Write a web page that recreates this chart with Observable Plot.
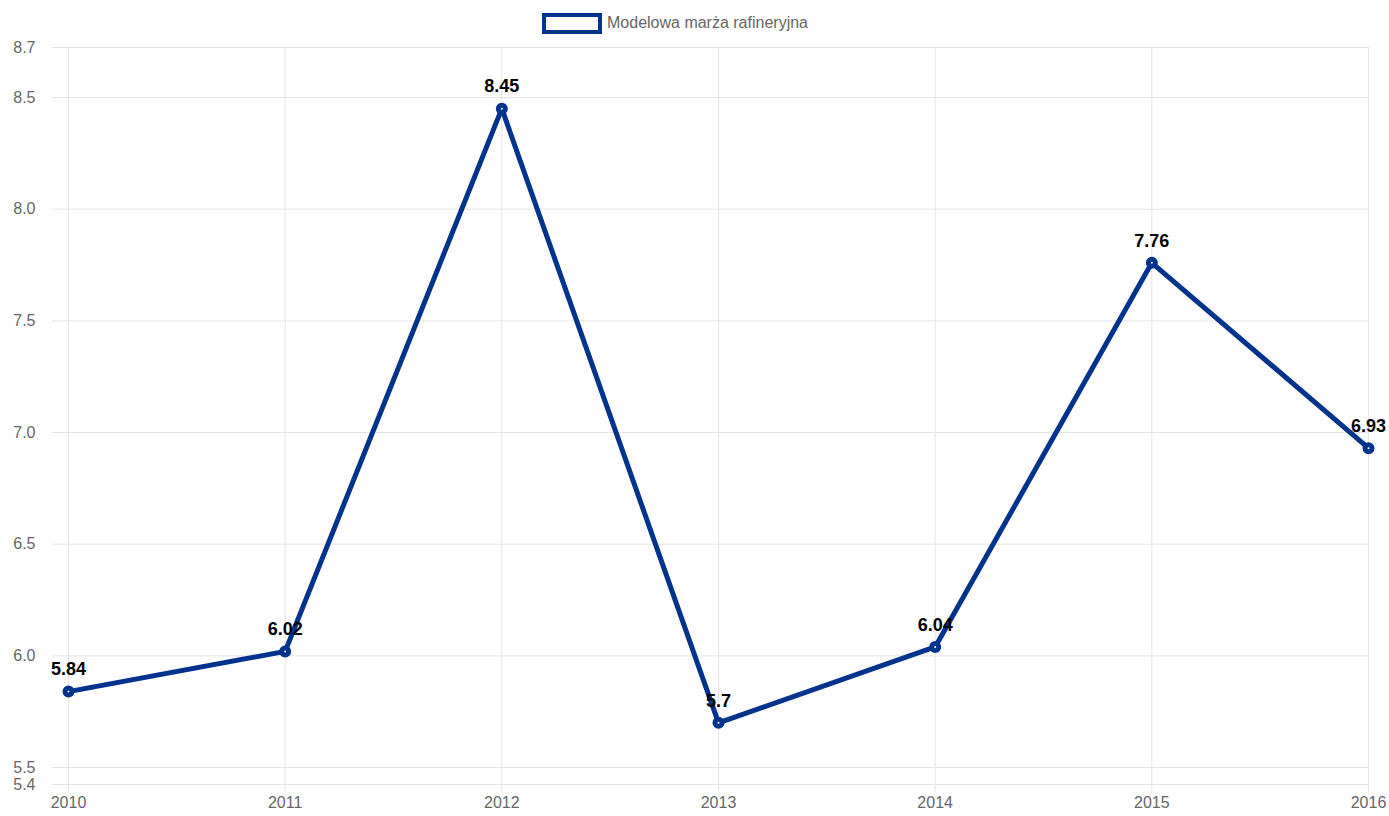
<!DOCTYPE html>
<html><head><meta charset="utf-8">
<script src="https://cdn.jsdelivr.net/npm/d3@7"></script>
<script src="https://cdn.jsdelivr.net/npm/@observablehq/plot@0.6"></script>
<style>
body{margin:0;background:#fff;font-family:"Liberation Sans",Arial,sans-serif;}
#legend{position:relative;height:36px;}
#legend .box{position:absolute;left:542px;top:13px;width:52px;height:13px;border:4px solid #00338d;background:#fff;}
#legend .txt{position:absolute;left:607px;top:14px;font-size:16px;line-height:18px;color:#666;}
</style></head>
<body>
<div id="legend"><div class="box"></div><div class="txt">Modelowa marża rafineryjna</div></div>
<div id="chart"></div>
<script>
const years = [2010, 2011, 2012, 2013, 2014, 2015, 2016];
const values = [5.84, 6.02, 8.45, 5.7, 6.04, 7.76, 6.93];
const yMin = 5.424, yMax = 8.724;
const yTicks = [yMin, 5.5, 6.0, 6.5, 7.0, 7.5, 8.0, 8.5, yMax];
const seriesName = "Modelowa marża rafineryjna";
const data = years.map((y, i) => ({year: y, value: values[i]}));
const blue = "#00338d";
const fmt = d => d.toFixed(1);
const plot = Plot.plot({
  width: 1389,
  height: 780,
  marginLeft: 68,
  marginRight: 21,
  marginTop: 11,
  marginBottom: 32,
  style: {fontFamily: "Liberation Sans, Arial, sans-serif", fontSize: "16px", color: "#666", background: "#fff"},
  x: {domain: [2010, 2016], ticks: years, tickFormat: d => String(d)},
  y: {domain: [yMin, yMax], ticks: yTicks, tickFormat: fmt},
  marks: [
    Plot.gridX(years, {stroke: "#e4e4e4", strokeOpacity: 1}),
    Plot.gridY(yTicks, {stroke: "#e4e4e4", strokeOpacity: 1}),
    Plot.axisY({ticks: yTicks, tickFormat: fmt, tickSize: 16, tickPadding: 17, stroke: "#e4e4e4", color: "#666", label: null, fontSize: 16}),
    Plot.axisX({ticks: years, tickFormat: d => String(d), tickSize: 8, tickPadding: 4, stroke: "#e4e4e4", color: "#666", label: null, fontSize: 16}),
    Plot.line(data, {x: "year", y: "value", stroke: blue, strokeWidth: 5, strokeLinejoin: "round"}),
    Plot.dot(data, {x: "year", y: "value", r: 3.5, fill: "#fff", stroke: blue, strokeWidth: 5}),
    Plot.text(data, {x: "year", y: "value", text: d => String(d.value), dy: -22, fill: "#000", fontWeight: "bold", fontSize: 18})
  ]
});
document.getElementById("chart").appendChild(plot);
</script>
</body></html>
